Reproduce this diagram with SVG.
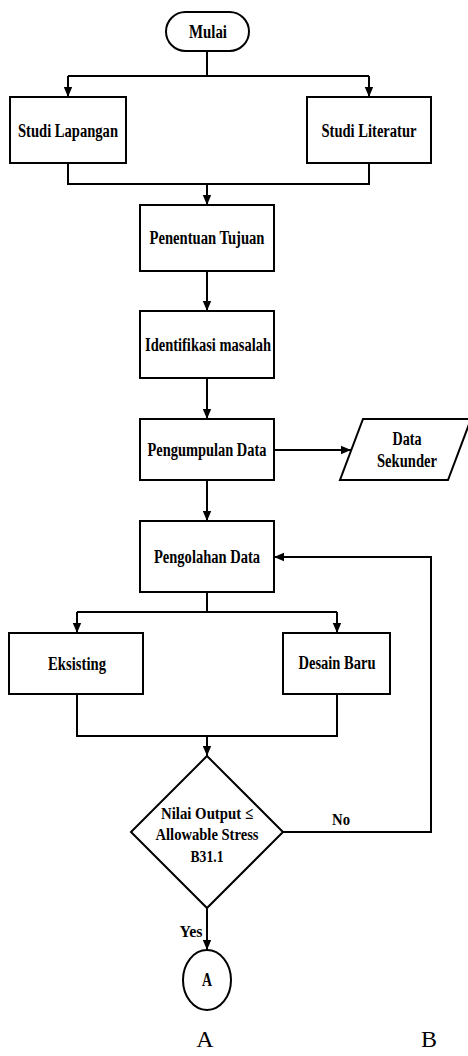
<svg xmlns="http://www.w3.org/2000/svg" width="468" height="1056" viewBox="0 0 468 1056">
<style>
  .shape { fill: #ffffff; stroke: #000000; stroke-width: 2; }
  .conn { fill: none; stroke: #000000; stroke-width: 2; }
  .lbl { font-family: "Liberation Serif", "Times New Roman", serif; font-weight: bold; font-size: 18px; fill: #000000; text-anchor: middle; }
  .dlbl { font-size: 17px; }
  .big { font-family: "Liberation Serif", "Times New Roman", serif; font-size: 24px; fill: #000000; text-anchor: middle; }
</style>
<defs>
  <marker id="arrow" markerUnits="userSpaceOnUse" markerWidth="10" markerHeight="10" refX="10" refY="5" orient="auto">
    <path d="M0,0.8 L10,5 L0,9.2 Z" fill="#000000"/>
  </marker>
</defs>
<rect width="468" height="1056" fill="#ffffff"/>
<g id="connectors">
  <path class="conn" d="M207,51 V76 M68,76 H369"/>
  <path class="conn" d="M68,76 V97" marker-end="url(#arrow)"/>
  <path class="conn" d="M369,76 V97" marker-end="url(#arrow)"/>
  <path class="conn" d="M68,163 V184 H369 V163"/>
  <path class="conn" d="M207,184 V205" marker-end="url(#arrow)"/>
  <path class="conn" d="M207,271 V311" marker-end="url(#arrow)"/>
  <path class="conn" d="M207,378 V419" marker-end="url(#arrow)"/>
  <path class="conn" d="M274,450 H351" marker-end="url(#arrow)"/>
  <path class="conn" d="M207,480 V521" marker-end="url(#arrow)"/>
  <path class="conn" d="M207,592 V612 M77,612 H337"/>
  <path class="conn" d="M77,612 V633" marker-end="url(#arrow)"/>
  <path class="conn" d="M337,612 V633" marker-end="url(#arrow)"/>
  <path class="conn" d="M77,694 V736 H337 V694"/>
  <path class="conn" d="M207,736 V756" marker-end="url(#arrow)"/>
  <path class="conn" d="M283,832 H431 V557 H274" marker-end="url(#arrow)"/>
  <path class="conn" d="M207,908 V950" marker-end="url(#arrow)"/>
  <text class="lbl dlbl" x="341" y="825" textLength="18" lengthAdjust="spacingAndGlyphs">No</text>
  <text class="lbl dlbl" x="191" y="937" textLength="23" lengthAdjust="spacingAndGlyphs">Yes</text>
</g>
<g id="mulai">
  <rect class="shape" x="166" y="12" width="83" height="39" rx="19.5" ry="19.5"/>
  <text class="lbl" x="208" y="38" textLength="38" lengthAdjust="spacingAndGlyphs">Mulai</text>
</g>
<g id="studi-lapangan">
  <rect class="shape" x="10" y="97" width="116" height="66"/>
  <text class="lbl" x="68" y="137" textLength="100" lengthAdjust="spacingAndGlyphs">Studi Lapangan</text>
</g>
<g id="studi-literatur">
  <rect class="shape" x="307" y="97" width="124" height="66"/>
  <text class="lbl" x="369" y="137" textLength="95" lengthAdjust="spacingAndGlyphs">Studi Literatur</text>
</g>
<g id="penentuan-tujuan">
  <rect class="shape" x="140" y="205" width="134" height="66"/>
  <text class="lbl" x="207" y="244" textLength="115" lengthAdjust="spacingAndGlyphs">Penentuan Tujuan</text>
</g>
<g id="identifikasi-masalah">
  <rect class="shape" x="140" y="311" width="134" height="67"/>
  <text class="lbl" x="208" y="351" textLength="126" lengthAdjust="spacingAndGlyphs">Identifikasi masalah</text>
</g>
<g id="pengumpulan-data">
  <rect class="shape" x="140" y="419" width="134" height="61"/>
  <text class="lbl" x="207" y="456" textLength="119" lengthAdjust="spacingAndGlyphs">Pengumpulan Data</text>
</g>
<g id="data-sekunder">
  <polygon class="shape" points="363,419 471,419 448,480 340,480"/>
  <text class="lbl" x="407" y="445" textLength="29" lengthAdjust="spacingAndGlyphs">Data</text>
  <text class="lbl" x="407" y="467" textLength="60" lengthAdjust="spacingAndGlyphs">Sekunder</text>
</g>
<g id="pengolahan-data">
  <rect class="shape" x="140" y="521" width="134" height="71"/>
  <text class="lbl" x="207" y="563" textLength="106" lengthAdjust="spacingAndGlyphs">Pengolahan Data</text>
</g>
<g id="eksisting">
  <rect class="shape" x="9" y="633" width="134" height="61"/>
  <text class="lbl" x="77" y="670" textLength="58" lengthAdjust="spacingAndGlyphs">Eksisting</text>
</g>
<g id="desain-baru">
  <rect class="shape" x="283" y="633" width="107" height="61"/>
  <text class="lbl" x="337" y="669" textLength="77" lengthAdjust="spacingAndGlyphs">Desain Baru</text>
</g>
<g id="decision">
  <polygon class="shape" points="207,756 283,832 207,908 131,832"/>
  <text class="lbl dlbl" x="207" y="819" textLength="92" lengthAdjust="spacingAndGlyphs">Nilai Output ≤</text>
  <text class="lbl dlbl" x="207" y="840" textLength="103" lengthAdjust="spacingAndGlyphs">Allowable Stress</text>
  <text class="lbl dlbl" x="207" y="862" textLength="33" lengthAdjust="spacingAndGlyphs">B31.1</text>
</g>
<g id="connector-a">
  <ellipse class="shape" cx="207" cy="980" rx="24" ry="30"/>
  <text class="lbl" x="207" y="986" font-size="15" textLength="10" lengthAdjust="spacingAndGlyphs">A</text>
</g>
<g id="caption">
  <text class="big" x="205" y="1047">A</text>
  <text class="big" x="429" y="1047">B</text>
</g>
</svg>
